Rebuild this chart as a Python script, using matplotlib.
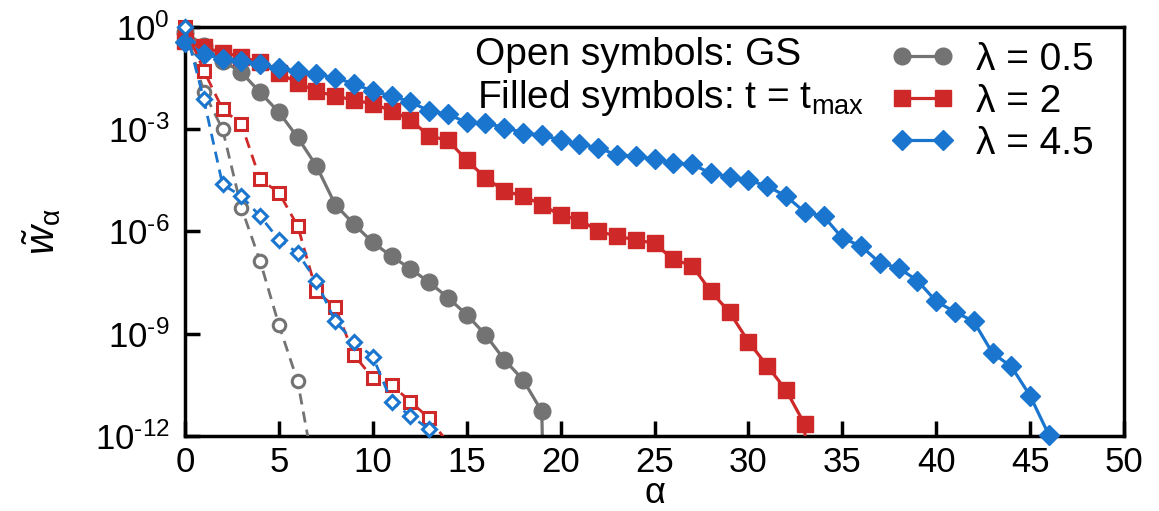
import numpy as np
import matplotlib
matplotlib.use("Agg")
import matplotlib.pyplot as plt
from matplotlib.lines import Line2D
from matplotlib.ticker import FixedLocator, FixedFormatter, NullLocator

plt.rcParams['font.family'] = ['Liberation Sans', 'DejaVu Sans']
plt.rcParams['mathtext.fontset'] = 'custom'
plt.rcParams['mathtext.rm'] = 'Liberation Sans'
plt.rcParams['mathtext.it'] = 'Liberation Sans:italic'
plt.rcParams['mathtext.bf'] = 'Liberation Sans:bold'
plt.rcParams['mathtext.default'] = 'regular'

# log10 of the weights w_alpha, alpha = 0, 1, 2, ...
# filled symbols: t = t_max
logw_tmax_05 = [-0.15, -0.55, -0.99, -1.33, -1.92, -2.50, -3.24, -4.08, -5.21, -5.79,
                -6.32, -6.73, -7.09, -7.49, -7.94, -8.44, -9.03, -9.76, -10.35, -11.28,
                -40.0]
logw_tmax_2 = [-0.42, -0.60, -0.75, -0.87, -1.04, -1.36, -1.63, -1.89, -2.02, -2.15,
               -2.25, -2.46, -2.72, -3.20, -3.32, -3.91, -4.42, -4.81, -4.96, -5.21,
               -5.53, -5.65, -5.99, -6.14, -6.24, -6.35, -6.82, -7.00, -7.76, -8.37,
               -9.23, -9.94, -10.65, -11.66, -40.0]
logw_tmax_45 = [-0.45, -0.79, -0.94, -0.99, -1.09, -1.21, -1.30, -1.38, -1.50, -1.66,
                -1.89, -2.02, -2.20, -2.46, -2.56, -2.80, -2.82, -2.95, -3.10, -3.18,
                -3.31, -3.44, -3.54, -3.76, -3.79, -3.88, -3.98, -4.03, -4.29, -4.39,
                -4.49, -4.67, -4.96, -5.43, -5.55, -6.19, -6.43, -6.92, -7.07, -7.44,
                -8.05, -8.36, -8.64, -9.57, -9.96, -10.82, -11.97]
# open symbols: ground state
logw_gs_05 = [0.0, -1.90, -3.00, -5.30, -6.87, -8.74, -10.40, -13.40]
logw_gs_2 = [0.0, -1.28, -2.41, -2.85, -4.47, -4.86, -5.84, -7.76, -8.22, -9.62,
             -10.30, -10.50, -10.99, -11.48, -12.20]
logw_gs_45 = [0.0, -2.12, -4.62, -4.96, -5.55, -6.24, -6.63, -7.46, -8.64, -9.23,
              -9.67, -10.99, -11.41, -11.80]

lambdas = ['0.5', '2', '4.5']
colors = ['#737373', '#cf2828', '#1a75cf']
markers = ['o', 's', 'D']
ms_filled = [12, 11, 10]
ms_open = [9, 9, 7.5]

x_ticks = list(range(0, 51, 5))
y_exponents = [0, -3, -6, -9, -12]

YMIN, YMAX = 1e-12, 1.0
W, H = 1159, 511

fig = plt.figure(figsize=(W / 100, H / 100), dpi=100)
ax = fig.add_axes([185 / W, 1 - 436 / H, (1124 - 185) / W, (436 - 27) / H])
ax.set_yscale('log')
ax.set_xlim(0, 50)
ax.set_ylim(YMIN, YMAX)


def draw(logw, color, marker, ms, filled, z):
    w = 10.0 ** np.asarray(logw)
    a = np.arange(len(w))
    if filled:
        ax.plot(a, w, color=color, lw=2.3, zorder=z)
    else:
        ax.plot(a, w, color=color, lw=2.0, dashes=(4, 2.6), zorder=z)
    keep = w >= YMIN * 0.999
    if filled:
        ax.plot(a[keep], w[keep], ls='none', marker=marker, ms=ms, color=color,
                mec=color, clip_on=False, zorder=z + 0.5)
    else:
        ax.plot(a[keep], w[keep], ls='none', marker=marker, ms=ms, mfc='white',
                mec=color, mew=2.2, clip_on=False, zorder=z + 0.5)


filled_sets = [logw_tmax_05, logw_tmax_2, logw_tmax_45]
open_sets = [logw_gs_05, logw_gs_2, logw_gs_45]
for i in range(3):
    draw(filled_sets[i], colors[i], markers[i], ms_filled[i], True, 2 + i)
for i in range(3):
    draw(open_sets[i], colors[i], markers[i], ms_open[i], False, 6 + i)

# axes styling
for side in ['left', 'right', 'top', 'bottom']:
    ax.spines[side].set_linewidth(2.5)
ax.xaxis.set_major_locator(FixedLocator(x_ticks))
ax.set_xticklabels([str(v) for v in x_ticks])
ax.yaxis.set_major_locator(FixedLocator([10.0 ** e for e in y_exponents]))
ax.yaxis.set_minor_locator(NullLocator())
ylabels = ['$10^{%s}$' % (str(e).replace('-', '\u2010')) for e in y_exponents]
ax.yaxis.set_major_formatter(FixedFormatter(ylabels))
ax.tick_params(axis='both', which='major', direction='in', length=11, width=2.5,
               labelsize=25, top=False, right=False)
ax.tick_params(axis='x', pad=7)
ax.tick_params(axis='y', pad=11)

ax.set_xlabel('\u03b1', fontsize=26, labelpad=-2)
ax.set_ylabel(r'$\mathit{\tilde{w}}_{\alpha}$', fontsize=29, labelpad=23)

# notes on symbol meaning
fig.text(475 / W, 1 - 65 / H, 'Open symbols: GS', fontsize=28,
         ha='left', va='baseline')
fig.text(477 / W, 1 - 108 / H, 'Filled symbols: t = t$_{max}$', fontsize=28,
         ha='left', va='baseline')

handles = [Line2D([], [], color=colors[i], lw=2.3, marker=markers[i],
                  ms=ms_filled[i]) for i in range(3)]
labels = ['\u03bb = %s' % l for l in lambdas]
fig.legend(handles, labels, loc='upper left', bbox_to_anchor=(890 / W, 1 - 42 / H),
           frameon=False, fontsize=28, numpoints=2, handlelength=1.65,
           handletextpad=0.55, labelspacing=0.15, borderpad=0, borderaxespad=0)

fig.savefig('out.png', dpi=100)
